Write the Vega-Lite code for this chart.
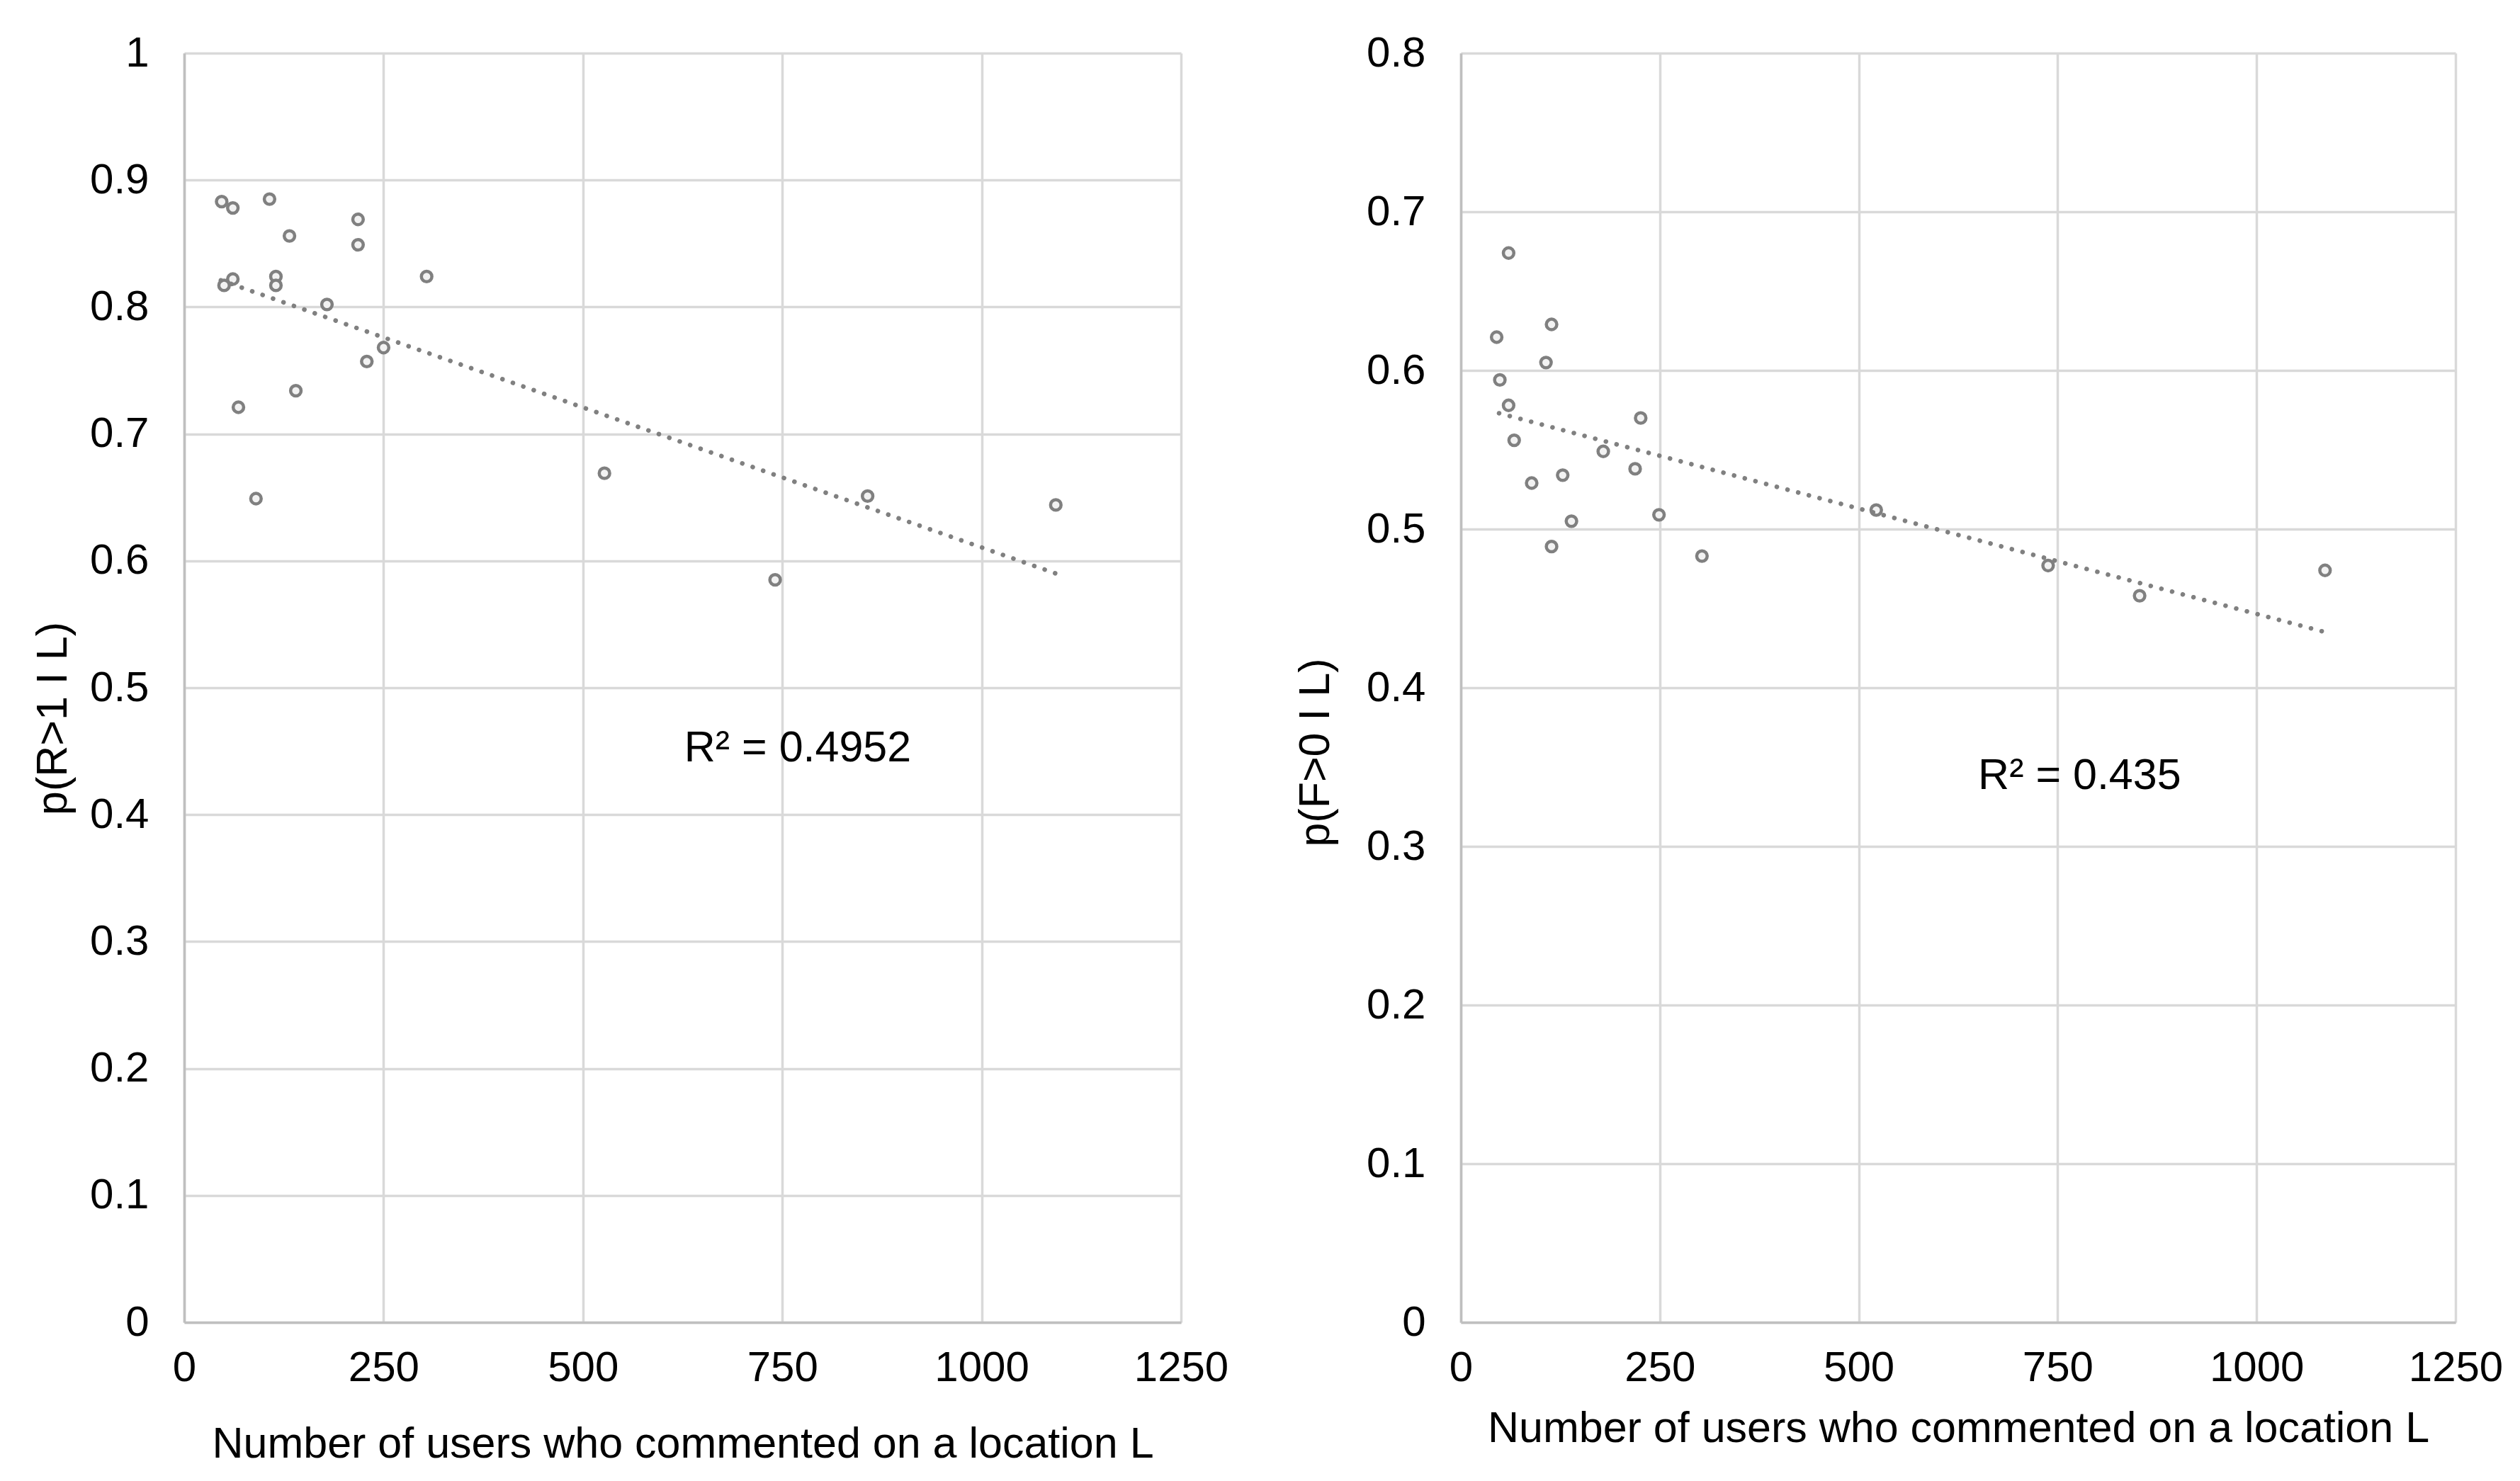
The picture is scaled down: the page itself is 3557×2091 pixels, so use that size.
{
  "$schema": "https://vega.github.io/schema/vega-lite/v6.json",
  "background": "white",
  "padding": {"left": 44, "top": 45, "right": 0, "bottom": 0},
  "autosize": {"type": "pad"},
  "spacing": 92,
  "config": {
    "view": {"stroke": null},
    "font": "Liberation Sans",
    "axis": {
      "labelFont": "Liberation Sans",
      "titleFont": "Liberation Sans",
      "labelFontSize": 60,
      "titleFontSize": 61,
      "labelColor": "#000000",
      "titleColor": "#000000",
      "titleFontWeight": "normal",
      "gridColor": "#d9d9d9",
      "gridWidth": 3.5,
      "domainColor": "#bfbfbf",
      "domainWidth": 3.5,
      "ticks": false,
      "labelFlush": false,
      "labelOverlap": false
    }
  },
  "datasets": {
    "left": [
      {"users": 47, "p": 0.883}, {"users": 61, "p": 0.878}, {"users": 107, "p": 0.885},
      {"users": 132, "p": 0.856}, {"users": 218, "p": 0.869}, {"users": 218, "p": 0.849},
      {"users": 61, "p": 0.822}, {"users": 50, "p": 0.817}, {"users": 115, "p": 0.824},
      {"users": 115, "p": 0.817}, {"users": 304, "p": 0.824}, {"users": 179, "p": 0.802},
      {"users": 250, "p": 0.768}, {"users": 229, "p": 0.757}, {"users": 140, "p": 0.734},
      {"users": 68, "p": 0.721}, {"users": 90, "p": 0.649}, {"users": 527, "p": 0.669},
      {"users": 741, "p": 0.585}, {"users": 857, "p": 0.651}, {"users": 1093, "p": 0.644}
    ],
    "right": [
      {"users": 60, "p": 0.674}, {"users": 114, "p": 0.629}, {"users": 45, "p": 0.621},
      {"users": 107, "p": 0.605}, {"users": 49, "p": 0.594}, {"users": 60, "p": 0.578},
      {"users": 226, "p": 0.570}, {"users": 67, "p": 0.556}, {"users": 179, "p": 0.549},
      {"users": 219, "p": 0.538}, {"users": 128, "p": 0.534}, {"users": 89, "p": 0.529},
      {"users": 249, "p": 0.509}, {"users": 139, "p": 0.505}, {"users": 114, "p": 0.489},
      {"users": 303, "p": 0.483}, {"users": 522, "p": 0.512}, {"users": 738, "p": 0.477},
      {"users": 853, "p": 0.458}, {"users": 1086, "p": 0.474}
    ],
    "trendLeft": [{"users": 46, "p": 0.821}, {"users": 1093, "p": 0.590}],
    "trendRight": [{"users": 48, "p": 0.573}, {"users": 1094, "p": 0.434}],
    "r2Left": [{"users": 627, "p": 0.442, "label": "R² = 0.4952"}],
    "r2Right": [{"users": 650, "p": 0.336, "label": "R² = 0.435"}]
  },
  "hconcat": [
    {
      "width": 1407,
      "height": 1792,
      "layer": [
        {
          "data": {"name": "left"},
          "mark": {"type": "point", "shape": "circle", "filled": true, "fill": "#f2f2f2", "stroke": "#808080", "strokeWidth": 4.5, "size": 220, "opacity": 1},
          "encoding": {
            "x": {"field": "users", "type": "quantitative", "scale": {"domain": [0, 1250], "nice": false},
                  "axis": {"values": [0, 250, 500, 750, 1000, 1250], "format": "d", "labelPadding": 35, "titlePadding": 48,
                           "title": "Number of users who commented on a location L"}},
            "y": {"field": "p", "type": "quantitative", "scale": {"domain": [0, 1], "nice": false},
                  "axis": {"values": [0, 0.1, 0.2, 0.3, 0.4, 0.5, 0.6, 0.7, 0.8, 0.9, 1], "format": ".1~f", "labelPadding": 50, "titlePadding": 20,
                           "title": "p(R>1 I L)", "titleY": 939}}
          }
        },
        {
          "data": {"name": "trendLeft"},
          "mark": {"type": "line", "color": "#808080", "strokeWidth": 6.5, "strokeCap": "round", "strokeDash": [0.1, 15.5]},
          "encoding": {
            "x": {"field": "users", "type": "quantitative"},
            "y": {"field": "p", "type": "quantitative"}
          }
        },
        {
          "data": {"name": "r2Left"},
          "mark": {"type": "text", "align": "left", "baseline": "alphabetic", "fontSize": 61, "font": "Liberation Sans", "color": "#000000"},
          "encoding": {
            "x": {"field": "users", "type": "quantitative"},
            "y": {"field": "p", "type": "quantitative"},
            "text": {"field": "label"}
          }
        }
      ]
    },
    {
      "width": 1404,
      "height": 1792,
      "layer": [
        {
          "data": {"name": "right"},
          "mark": {"type": "point", "shape": "circle", "filled": true, "fill": "#f2f2f2", "stroke": "#808080", "strokeWidth": 4.5, "size": 220, "opacity": 1},
          "encoding": {
            "x": {"field": "users", "type": "quantitative", "scale": {"domain": [0, 1250], "nice": false},
                  "axis": {"values": [0, 250, 500, 750, 1000, 1250], "format": "d", "labelPadding": 35, "titlePadding": 26,
                           "title": "Number of users who commented on a location L"}},
            "y": {"field": "p", "type": "quantitative", "scale": {"domain": [0, 0.8], "nice": false},
                  "axis": {"values": [0, 0.1, 0.2, 0.3, 0.4, 0.5, 0.6, 0.7, 0.8], "format": ".1~f", "labelPadding": 50, "titlePadding": 40,
                           "title": "p(F>0 I L)", "titleY": 987}}
          }
        },
        {
          "data": {"name": "trendRight"},
          "mark": {"type": "line", "color": "#808080", "strokeWidth": 6.5, "strokeCap": "round", "strokeDash": [0.1, 15.5]},
          "encoding": {
            "x": {"field": "users", "type": "quantitative"},
            "y": {"field": "p", "type": "quantitative"}
          }
        },
        {
          "data": {"name": "r2Right"},
          "mark": {"type": "text", "align": "left", "baseline": "alphabetic", "fontSize": 61, "font": "Liberation Sans", "color": "#000000"},
          "encoding": {
            "x": {"field": "users", "type": "quantitative"},
            "y": {"field": "p", "type": "quantitative"},
            "text": {"field": "label"}
          }
        }
      ]
    }
  ]
}
